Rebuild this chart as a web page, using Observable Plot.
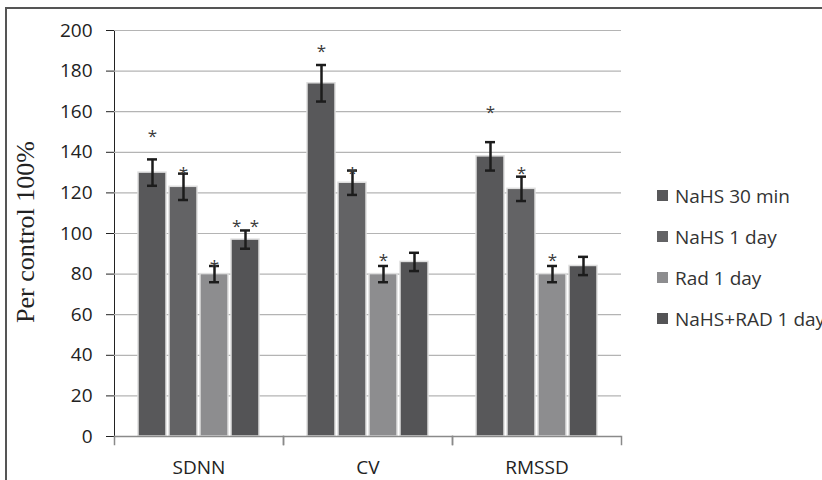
<!DOCTYPE html>
<html>
<head>
<meta charset="utf-8">
<script src="https://cdn.jsdelivr.net/npm/d3@7"></script>
<script src="https://cdn.jsdelivr.net/npm/@observablehq/plot@0.6"></script>
<style>
  html, body { margin: 0; padding: 0; background: #fff; }
  #wrap { position: relative; width: 822px; height: 480px; overflow: hidden; background: #fff; }
  #border { position: absolute; left: 5px; top: 7px; width: 900px; height: 600px;
            border-top: 2px solid #555; border-left: 2px solid #555; }
  #chart { position: absolute; left: 0; top: 0; }
  #ylabel { position: absolute; left: 26px; top: 232px; transform: translate(-50%, -50%) rotate(-90deg);
            font-family: "Liberation Serif", serif; font-size: 26px; color: #222; white-space: nowrap; }
  #legend { position: absolute; left: 657px; top: 175px; font-family: "Open Sans", sans-serif;
            font-size: 19px; color: #333; white-space: nowrap; }
  .item { height: 41px; display: flex; align-items: center; }
  .sw { width: 11px; height: 11px; margin-right: 7px; display: inline-block; }
</style>
</head>
<body>
<div id="wrap">
  <div id="border"></div>
  <div id="chart"></div>
  <div id="ylabel">Per control 100%</div>
  <div id="legend"></div>
</div>
<script>
// ---- data ----
const categories = ["SDNN", "CV", "RMSSD"];
const series = ["NaHS 30 min", "NaHS 1 day", "Rad 1 day", "NaHS+RAD 1 day"];
const colors = ["#58585a", "#636365", "#8d8d8f", "#545456"];
const yTicks = [0, 20, 40, 60, 80, 100, 120, 140, 160, 180, 200];

// mean values per series (SDNN, CV, RMSSD)
const nahs30Min = [130, 174, 138];
const nahs1Day = [123, 125, 122];
const rad1Day = [80, 80, 80];
const nahsRad1Day = [97, 86, 84];

// error (+/-) per series
const nahs30MinErr = [6.5, 9, 7];
const nahs1DayErr = [6.5, 6, 6];
const rad1DayErr = [4, 4, 4];
const nahsRad1DayErr = [4.5, 4.5, 4.5];

// significance marks and their heights
const nahs30MinStar = ["*", "*", "*"];
const nahs1DayStar = ["*", "*", "*"];
const rad1DayStar = ["*", "*", "*"];
const nahsRad1DayStar = ["* *", "", ""];
const nahs30MinStarY = [150, 192, 162];
const nahs1DayStarY = [132, 132, 132];
const rad1DayStarY = [86, 89, 89];
const nahsRad1DayStarY = [106, 0, 0];

const means = [nahs30Min, nahs1Day, rad1Day, nahsRad1Day];
const errs = [nahs30MinErr, nahs1DayErr, rad1DayErr, nahsRad1DayErr];
const stars = [nahs30MinStar, nahs1DayStar, rad1DayStar, nahsRad1DayStar];
const starYs = [nahs30MinStarY, nahs1DayStarY, rad1DayStarY, nahsRad1DayStarY];

const rows = [];
categories.forEach((c, ci) => {
  series.forEach((s, si) => {
    rows.push({
      category: c, series: s, value: means[si][ci],
      lo: means[si][ci] - errs[si][ci], hi: means[si][ci] + errs[si][ci],
      star: stars[si][ci].replace(/ /g, "\u2002"), starY: starYs[si][ci]
    });
  });
});
const starRows = rows.filter(d => d.star !== "");

const chart = Plot.plot({
  width: 822,
  height: 480,
  marginTop: 30,
  marginBottom: 44,
  marginLeft: 113,
  marginRight: 201,
  style: { fontFamily: "Open Sans, sans-serif", fontSize: "19px", color: "#222", background: "transparent" },
  fx: { domain: categories, padding: 0, label: null, tickSize: 0, tickPadding: 24 },
  x: { domain: series, paddingInner: 0.1, paddingOuter: 0.775, axis: null },
  y: { domain: [0, 200], ticks: yTicks, tickSize: 8, tickPadding: 14, label: null, line: true },
  color: { domain: series, range: colors },
  marks: [
    Plot.ruleY(yTicks.slice(1), { stroke: "#b4b4b4", strokeWidth: 1.2, strokeOpacity: 1 }),
    Plot.barY(rows, { fx: "category", x: "series", y: "value", fill: "series", stroke: "#dedede", strokeWidth: 1.5 }),
    Plot.ruleX(rows, { fx: "category", x: "series", y1: "lo", y2: "hi", stroke: "#1c1c1c", strokeWidth: 2.5 }),
    Plot.tickY(rows, { fx: "category", x: "series", y: "lo", stroke: "#1c1c1c", strokeWidth: 2.5, insetLeft: 9, insetRight: 9 }),
    Plot.tickY(rows, { fx: "category", x: "series", y: "hi", stroke: "#1c1c1c", strokeWidth: 2.5, insetLeft: 9, insetRight: 9 }),
    Plot.text(starRows, { fx: "category", x: "series", y: "starY", text: "star", fontSize: 17, fill: "#3a3a3a", dy: 5 }),
    Plot.frame({ anchor: "left", stroke: "#8a8a8a", strokeWidth: 1.5, insetTop: 406, insetBottom: -8 }),
    Plot.frame({ anchor: "right", stroke: "#8a8a8a", strokeWidth: 1.5, insetTop: 406, insetBottom: -8 }),
    Plot.ruleY([0], { stroke: "#8a8a8a", strokeWidth: 1.5 })
  ]
});
document.getElementById("chart").appendChild(chart);

// legend
const legend = document.getElementById("legend");
series.forEach((s, i) => {
  const item = document.createElement("div");
  item.className = "item";
  const sw = document.createElement("span");
  sw.className = "sw";
  sw.style.background = colors[i];
  const t = document.createElement("span");
  t.textContent = s;
  item.appendChild(sw);
  item.appendChild(t);
  legend.appendChild(item);
});
</script>
</body>
</html>
